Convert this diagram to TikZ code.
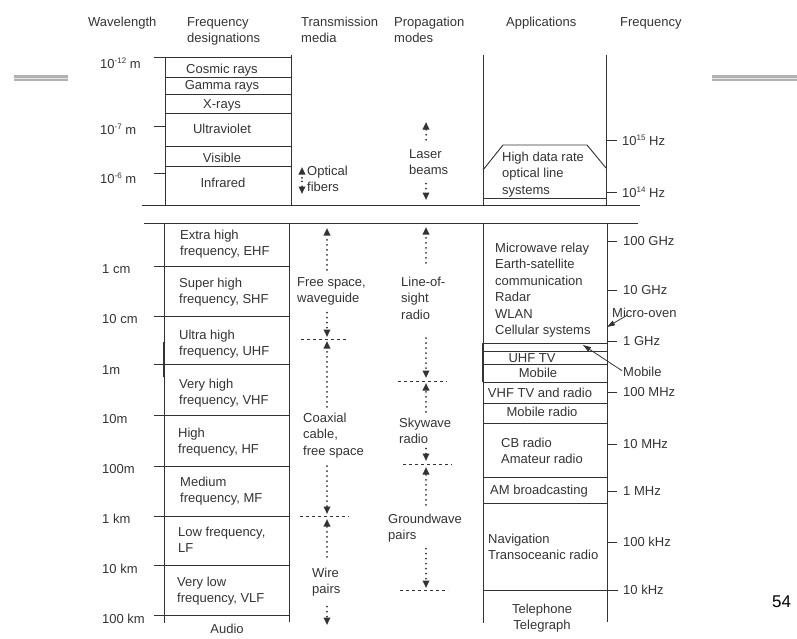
\documentclass[tikz,border=0pt]{standalone}
\usepackage{fontspec}
\setmainfont{Liberation Sans}
\usetikzlibrary{arrows.meta}
\definecolor{ink}{HTML}{333333}
\newcommand{\lft}[1]{\begin{tabular}[t]{@{}l@{}}#1\end{tabular}}
\newcommand{\ctr}[1]{\begin{tabular}[t]{@{}c@{}}#1\end{tabular}}
\newcommand{\sps}[1]{\raisebox{5pt}{\fontsize{8}{8}\selectfont #1}}

\begin{document}
\begin{tikzpicture}[x=1pt,y=-1pt,
	every node/.style={inner sep=0pt,text=ink,font=\fontsize{13}{16.5}\selectfont},
	txt/.style={anchor=base west},
	ctxt/.style={anchor=base},
	rule/.style={draw=ink,line width=0.9pt},
	dotarrow/.style={ink,line width=2pt,line cap=round,dash pattern=on 0pt off 5pt,-{Triangle[width=6.5pt,length=7.5pt]}},
	sep/.style={ink,line width=0.8pt,dash pattern=on 3pt off 3pt},
	tip/.style={ink,line width=0.8pt,-{Triangle[width=5pt,length=8pt]}}]
	\useasboundingbox (0,0) rectangle (797,638);
	% slide rules
	\fill[gray!60] (14,75) rectangle (68,81);
	\draw[gray!20,line width=1.2pt] (14,78.5) -- (68,78.5);
	\fill[gray!60] (712,75) rectangle (797,81);
	\draw[gray!20,line width=1.2pt] (712,78.5) -- (797,78.5);
	% headings
	\node[txt] (hwl) at (88,26) {Wavelength};
	\node[txt] (hfd) at (187,26) {\lft{Frequency\\designations}};
	\node[txt] (htm) at (301,26) {\lft{Transmission\\media}};
	\node[txt] (hpm) at (394,26) {\lft{Propagation\\modes}};
	\node[txt] (hap) at (506,26) {Applications};
	\node[txt] (hfr) at (620,26) {Frequency};
	% optical part
	\draw[rule] (154,57) -- (291,57);
	\draw[rule] (165,57) -- (165,205);
	\draw[rule] (291,55) -- (291,205);
	\draw[rule] (165,77) -- (291,77) (165,94) -- (291,94) (165,113) -- (291,113);
	\draw[rule] (165,146) -- (291,146) (165,166) -- (291,166);
	\draw[rule] (154,126) -- (165,126) (154,173) -- (165,173);
	\draw[rule] (142,205) -- (640,205);
	\draw[rule] (483,55) -- (483,205) (606,55) -- (606,205);
	\draw[rule] (483,198) -- (606,198);
	\draw[rule] (483,170) -- (503,145) -- (587,145) -- (606,168);
	\draw[rule] (606,140) -- (617,140) (606,192) -- (617,192);
	\node[txt] (w12) at (100,68) {10\sps{-12} m};
	\node[txt] (w7) at (100,134) {10\sps{-7} m};
	\node[txt] (w6) at (100,183) {10\sps{-6} m};
	\node[ctxt] (cos) at (222,73) {Cosmic rays};
	\node[ctxt] (gam) at (222,89) {Gamma rays};
	\node[ctxt] (xr) at (222,108) {X-rays};
	\node[ctxt] (uv) at (222,133) {Ultraviolet};
	\node[ctxt] (vis) at (222,162) {Visible};
	\node[ctxt] (ir) at (223,187) {Infrared};
	\node[txt] (opt) at (307,175) {\lft{Optical\\fibers}};
	\coordinate (op1) at (302,167);
	\coordinate (op2) at (302,194);
	\draw[dotarrow,shorten <=2pt] (opt.west -| op1) -- (op1);
	\draw[dotarrow,shorten <=1.5pt] (opt.west -| op2) -- (op2);
	\node[txt] (las) at (409,158) {\lft{Laser\\beams}};
	\coordinate (ls1) at (426,122);
	\coordinate (ls2) at (426,200);
	\draw[dotarrow,shorten <=6.5pt] (las.north -| ls1) -- (ls1);
	\draw[dotarrow,shorten <=4pt] (las.south -| ls2) -- (ls2);
	\node[txt] (hdr) at (502,161) {\lft{High data rate\\optical line\\systems}};
	\node[txt] (f15) at (622,145) {10\sps{15} Hz};
	\node[txt] (f14) at (622,197) {10\sps{14} Hz};
	% radio part
	\draw[rule] (144,223) -- (638,223);
	\draw[rule] (164,223) -- (164,623) (289,223) -- (289,622);
	\draw[ink,line width=2pt] (163.5,342) -- (163.5,377);
	\draw[rule] (154,266) -- (289,266) (154,316) -- (289,316) (154,364) -- (289,364);
	\draw[rule] (154,415) -- (289,415) (154,466) -- (289,466) (154,516) -- (289,516);
	\draw[rule] (154,565) -- (289,565) (154,615) -- (289,615);
	\node[txt] (w1cm) at (102,273) {1 cm};
	\node[txt] (w10cm) at (102,323) {10 cm};
	\node[txt] (w1m) at (102,374) {1m};
	\node[txt] (w10m) at (102,423) {10m};
	\node[txt] (w100m) at (102,473) {100m};
	\node[txt] (w1km) at (102,523) {1 km};
	\node[txt] (w10km) at (102,573) {10 km};
	\node[txt] (w100km) at (102,623) {100 km};
	\node[txt] (ehf) at (180,239) {\lft{Extra high\\frequency, EHF}};
	\node[txt] (shf) at (179,287) {\lft{Super high\\frequency, SHF}};
	\node[txt] (uhf) at (179,339) {\lft{Ultra high\\frequency, UHF}};
	\node[txt] (vhf) at (179,388) {\lft{Very high\\frequency, VHF}};
	\node[txt] (hf) at (178,437) {\lft{High\\frequency, HF}};
	\node[txt] (mf) at (180,486) {\lft{Medium\\frequency, MF}};
	\node[txt] (lf) at (178,536) {\lft{Low frequency,\\LF}};
	\node[txt] (vlf) at (177,586) {\lft{Very low\\frequency, VLF}};
	\node[ctxt] (aud) at (227,633) {Audio};
	% transmission media
	\node[txt] (fsw) at (297,286) {\lft{Free space,\\waveguide}};
	\node[txt] (cfs) at (303,422) {\lft{Coaxial\\cable,\\free space}};
	\node[txt] (wp) at (312,577) {\lft{Wire\\pairs}};
	\coordinate (tr1) at (327,228);
	\coordinate (tr2) at (327,339);
	\coordinate (tr3) at (327,516);
	\coordinate (tr4) at (327,625);
	\draw[dotarrow,shorten <=4.5pt] (fsw.north -| tr1) -- (tr1);
	\draw[dotarrow,shorten <=5pt,shorten >=2pt] (fsw.south -| tr2) -- (tr2);
	\draw[dotarrow,shorten <=3.5pt,shorten >=2pt] (cfs.north -| tr2) -- (tr2);
	\draw[dotarrow,shorten <=6pt,shorten >=2pt] (cfs.south -| tr3) -- (tr3);
	\draw[dotarrow,shorten <=8.5pt,shorten >=3pt] (wp.north -| tr3) -- (tr3);
	\draw[dotarrow,shorten <=8pt] (wp.south -| tr4) -- (tr4);
	\draw[sep] ([xshift=-26pt]tr2) -- ([xshift=21pt]tr2);
	\draw[sep] ([xshift=-27pt]tr3) -- ([xshift=22pt]tr3);
	% propagation modes
	\node[txt] (los) at (401,286) {\lft{Line-of-\\sight\\radio}};
	\node[txt] (sky) at (399,427) {\lft{Skywave\\radio}};
	\node[txt] (gnd) at (388,523) {\lft{Groundwave\\pairs}};
	\coordinate (pr1) at (426,227);
	\coordinate (pr2) at (426,381);
	\coordinate (pr3) at (426,464);
	\coordinate (pr4) at (426,590);
	\draw[dotarrow,shorten <=11.5pt] (los.north -| pr1) -- (pr1);
	\draw[dotarrow,shorten <=14pt,shorten >=3pt] (los.south -| pr2) -- (pr2);
	\draw[dotarrow,shorten <=3.5pt,shorten >=2pt] (sky.north -| pr2) -- (pr2);
	\draw[dotarrow,shorten >=3pt] (sky.south -| pr3) -- (pr3);
	\draw[dotarrow,shorten <=6.5pt,shorten >=3pt] (gnd.north -| pr3) -- (pr3);
	\draw[dotarrow,shorten <=4pt,shorten >=2pt] (gnd.south -| pr4) -- (pr4);
	\draw[sep] ([xshift=-28pt]pr2) -- ([xshift=21pt]pr2);
	\draw[sep] ([xshift=-23pt]pr3) -- ([xshift=26pt]pr3);
	\draw[sep] ([xshift=-26pt]pr4) -- ([xshift=22pt]pr4);
	% applications
	\draw[rule] (483,223) -- (483,623) (607,223) -- (607,622);
	\draw[ink,line width=2pt] (483,343) -- (483,382);
	\draw[rule] (483,343) -- (607,343) (483,351) -- (607,351) (483,364) -- (607,364);
	\draw[rule] (483,382) -- (607,382) (483,403) -- (607,403) (483,423) -- (607,423);
	\draw[rule] (483,477) -- (607,477) (483,503) -- (607,503) (483,590) -- (618,590);
	\node[txt] (mw) at (495,252) {\lft{Microwave relay\\Earth-satellite\\communication\\Radar\\WLAN\\Cellular systems}};
	\node[ctxt] (uhftv) at (532,362) {UHF TV};
	\node[ctxt] (mob) at (538,377) {Mobile};
	\node[ctxt] (vhftv) at (540,397) {VHF TV and radio};
	\node[ctxt] (mobr) at (542,416) {Mobile radio};
	\node[txt] (cb) at (501,447) {\lft{CB radio\\Amateur radio}};
	\node[ctxt] (am) at (539,494) {AM broadcasting};
	\node[txt] (nav) at (488,543) {\lft{Navigation\\Transoceanic radio}};
	\node[ctxt] (tel) at (542,613) {\ctr{Telephone\\Telegraph}};
	% frequency scale
	\draw[rule] (607,241) -- (617,241) (607,290) -- (617,290) (607,341) -- (617,341);
	\draw[rule] (607,392) -- (617,392) (607,444) -- (617,444) (607,491) -- (617,491);
	\draw[rule] (607,542) -- (617,542);
	\node[anchor=west] (f100g) at (623,241) {100 GHz};
	\node[anchor=west] (f10g) at (623,290) {10 GHz};
	\node[anchor=west] (f1g) at (623,341) {1 GHz};
	\node[anchor=west] (f100m) at (623,392) {100 MHz};
	\node[anchor=west] (f10m) at (623,444) {10 MHz};
	\node[anchor=west] (f1m) at (623,491) {1 MHz};
	\node[anchor=west] (f100k) at (623,542) {100 kHz};
	\node[anchor=west] (f10k) at (623,590) {10 kHz};
	\node[txt] (mo) at (612,317) {Micro-oven};
	\node[txt] (mbl) at (623,376) {Mobile};
	\coordinate (motip) at (607,327);
	\coordinate (mbtip) at (583,345);
	\draw[tip] ([xshift=15pt,yshift=2pt]mo.south west) -- (motip);
	\draw[tip,shorten <=1pt] (mbl.west) -- (mbtip);
	\node[txt,text=black,font=\fontsize{17}{20}\selectfont] (pg) at (772,607) {54};
\end{tikzpicture}
\end{document}
